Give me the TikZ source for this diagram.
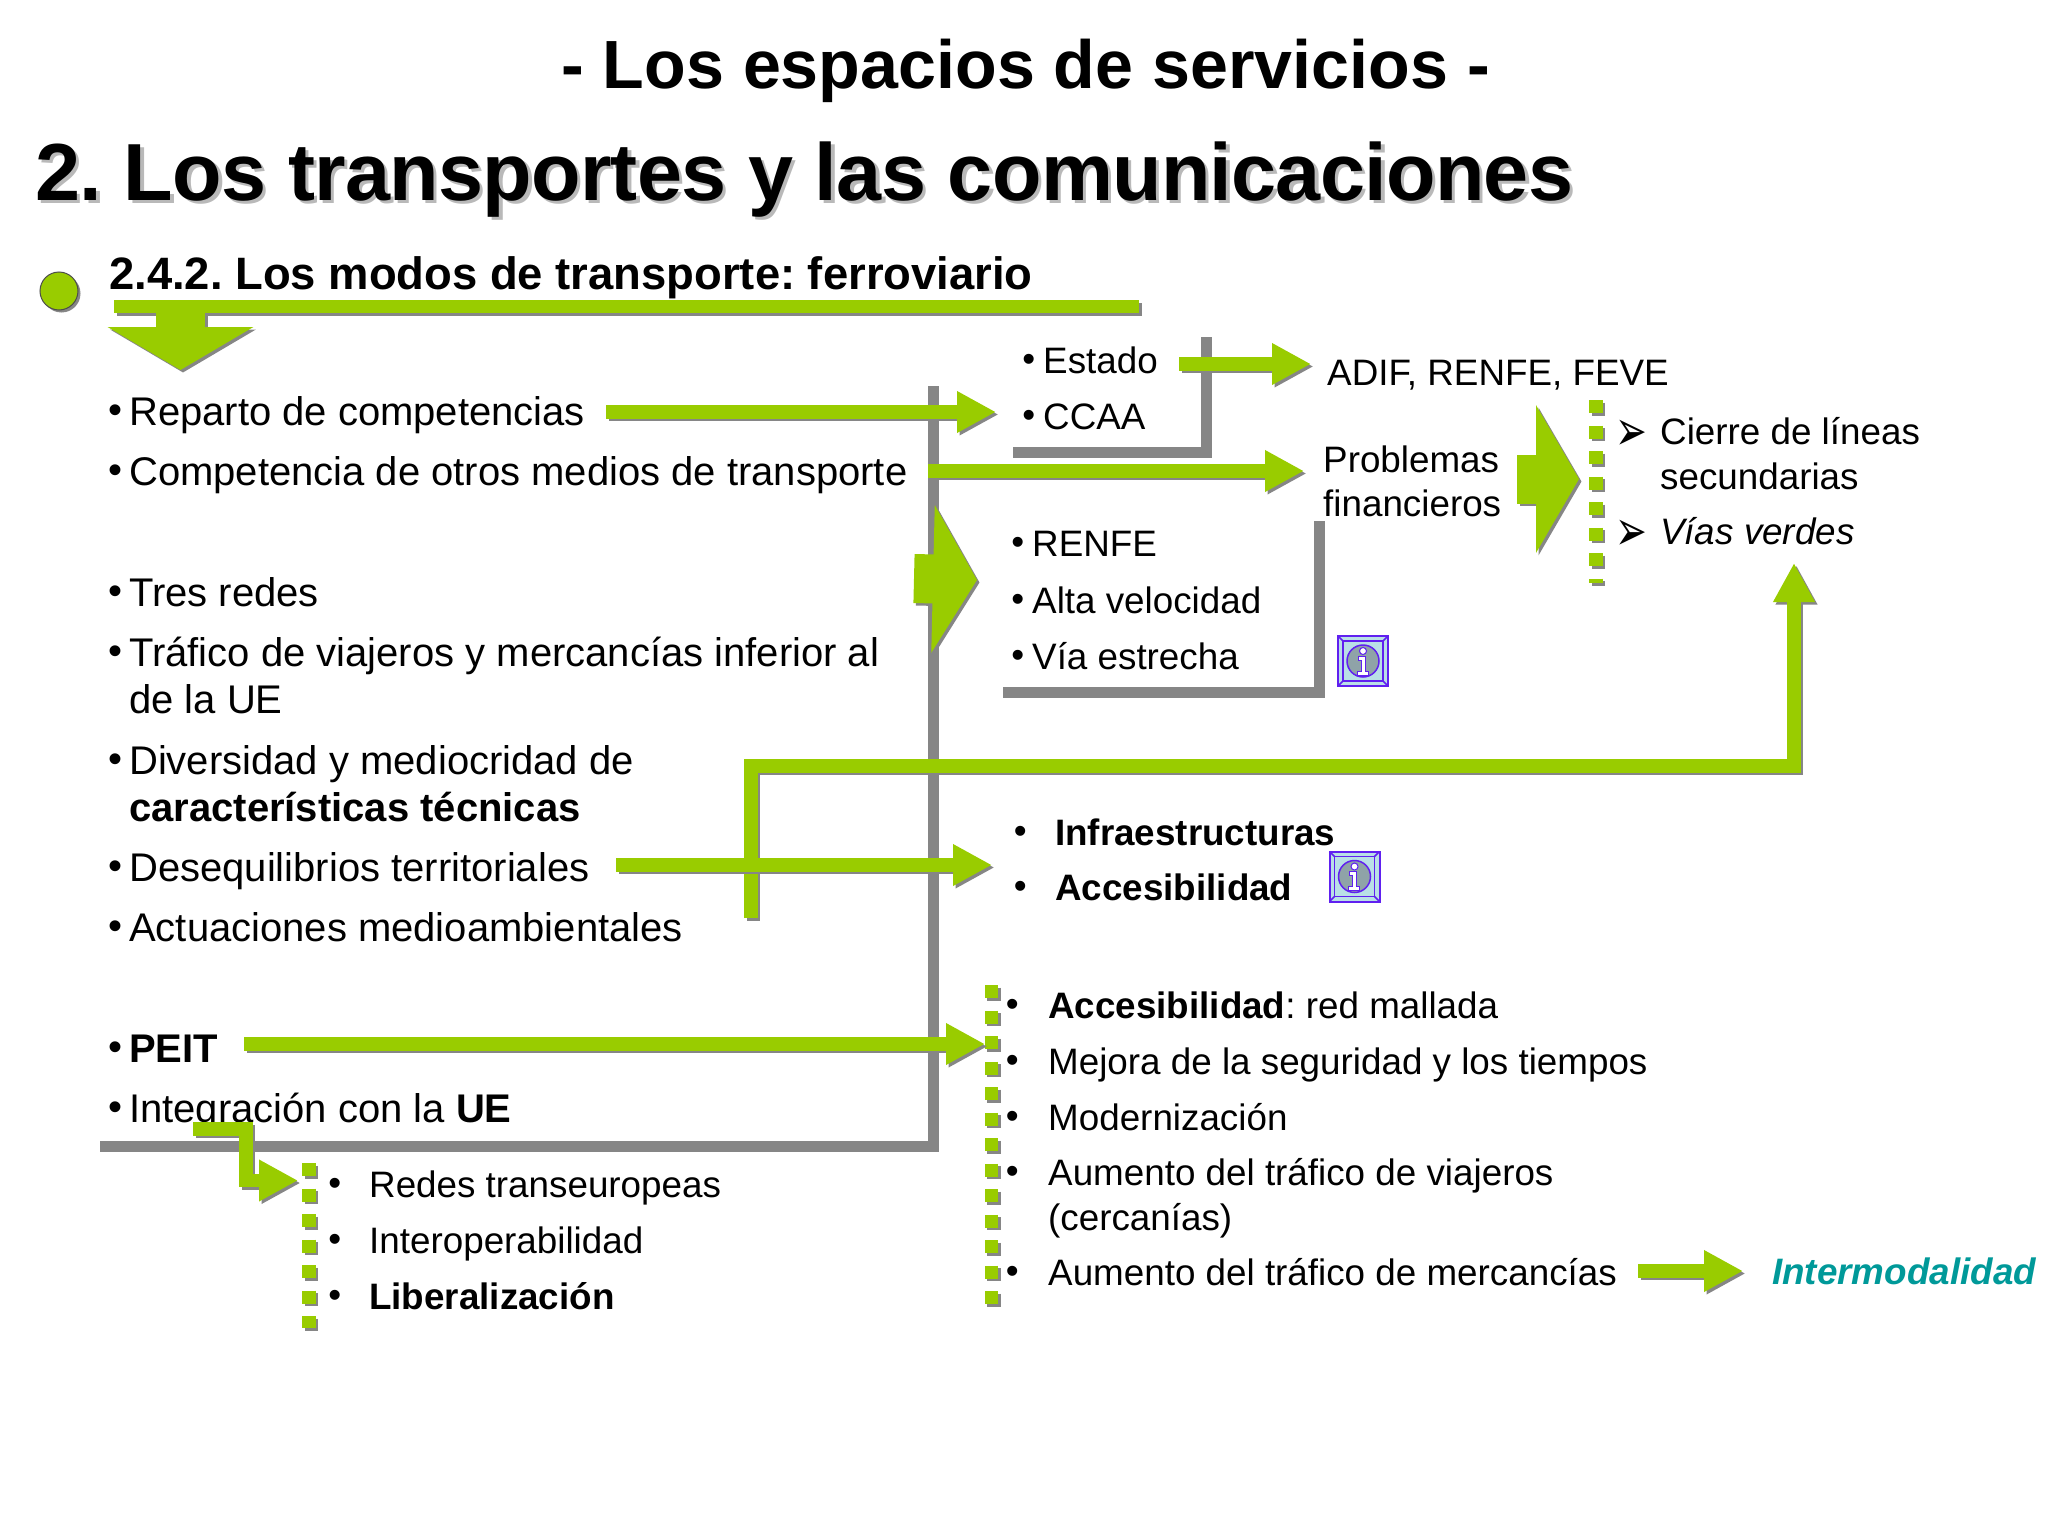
\documentclass[tikz,border=0pt]{standalone}
\usepackage{fontspec}
\setmainfont{Liberation Sans}
\newfontfamily\dingfont{DejaVu Sans}
\usepackage{tikz}
\usetikzlibrary{arrows.meta}
\frenchspacing

\definecolor{railgreen}{HTML}{99CC00}
\definecolor{railgray}{HTML}{868686}
\definecolor{railteal}{HTML}{009999}
\definecolor{iconviolet}{HTML}{6020F0}
\definecolor{iconblue}{HTML}{B9DFE6}
\definecolor{icongray}{HTML}{8FA3A8}

\tikzset{
  bigtitle/.style={anchor=base west,inner sep=0pt,font=\fontsize{81}{90}\selectfont\bfseries\addfontfeature{LetterSpace=-0.9}},
  lefttext/.style={anchor=base west,inner sep=0pt,font=\fontsize{40}{48}\selectfont},
  righttext/.style={anchor=base west,inner sep=0pt,font=\fontsize{36.8}{44}\selectfont},
  railbar/.style={draw=railgray,line width=11pt},
  dropshadow/.style={transform canvas={shift={(2.5,2.5)}}}
}

% block arrow: shaft width, tip width, tip length, path
\newcommand{\blockarrow}[4]{%
  \draw[draw=railgray,fill=none,line width=#1pt,-{Triangle[length=#3pt,width=#2pt]},dropshadow] #4;
  \draw[draw=railgreen,fill=none,line width=#1pt,-{Triangle[length=#3pt,width=#2pt]}] #4;
}
\newcommand{\greenarrow}[1]{\blockarrow{13.5}{39}{39}{#1}}
% column of little squares
\newcommand{\dotcolumn}[2]{%
  \draw[draw=railgray,line width=13.5pt,dash pattern=on 13pt off 12.5pt,dropshadow] #1 -- #2;
  \draw[draw=railgreen,line width=13.5pt,dash pattern=on 13pt off 12.5pt] #1 -- #2;
}
\newcommand{\bul}[1]{\llap{\raisebox{.05em}{•}\hspace{\dimexpr#1pt-.175em\relax}}}
\newcommand{\arrowbul}{\llap{\raisebox{-6pt}{\scalebox{1}[1.5]{\dingfont\fontsize{38}{38}\selectfont ➢}}\hspace{13pt}}}
\newcommand{\infoicon}[2]{%
  \begin{scope}[xshift=#1pt,yshift=-#2pt]
    \draw[iconviolet,fill=iconblue,line width=2pt] (-25,-25) rectangle (25,25);
    \draw[iconviolet,line width=1.5pt] (-20,-20) rectangle (20,20);
    \draw[iconviolet,line width=1.5pt] (-25,-25) -- (-20,-20) (25,-25) -- (20,-20) (25,25) -- (20,20) (-25,25) -- (-20,20);
    \draw[iconviolet,fill=icongray,line width=1.5pt] (0,0) circle (16);
    \draw[iconviolet,fill=white,line width=1pt] (0,-10) circle (3.5);
    \draw[iconviolet,fill=white,line width=1pt] (-5,-5) -- (2,-5) -- (2,10) -- (5,10) -- (5,14) -- (-6,14) -- (-6,10) -- (-2,10) -- (-2,-1) -- (-5,-1) -- cycle;
  \end{scope}
}

\begin{document}
\begin{tikzpicture}[x=1pt,y=-1pt]
  \useasboundingbox (0,0) rectangle (2048,1536);

  % titles
  \node[anchor=base west,inner sep=0pt,font=\fontsize{68.2}{80}\selectfont\bfseries] (maintitle) at (561,89) {- Los espacios de servicios -};
  \node[bigtitle,text=gray!55] (subtitleshade) at (38.5,203.5) {2. Los transportes y las comunicaciones};
  \node[bigtitle] (subtitle) at (35,200) {2. Los transportes y las comunicaciones};

  \fill[railgray,dropshadow] (59,291) circle (19);
  \draw[black!70,fill=railgreen,line width=1pt] (59,291) circle (19);
  \node[anchor=base west,inner sep=0pt,font=\fontsize{45.4}{50}\selectfont\bfseries] (section) at (109,289) {2.4.2. Los modos de transporte: ferroviario};

  % gray frames
  \draw[railbar] (933,386) -- (933,1146.5) -- (100,1146.5);
  \draw[railbar] (1206.5,337) -- (1206.5,452.5) -- (1013,452.5);
  \draw[railbar] (1319.5,521) -- (1319.5,692.5) -- (1003,692.5);

  % left column
  \node[lefttext] (reparto) at (129,425) {\bul{13.5}Reparto de competencias};
  \node[lefttext] (competencia) at (129,485) {\bul{13.5}Competencia de otros medios de transporte};
  \node[lefttext] (redes) at (129,606) {\bul{13.5}Tres redes};
  \node[lefttext] (trafico) at (129,666) {\bul{13.5}Tráfico de viajeros y mercancías inferior al};
  \node[lefttext] (traficob) at (129,713) {de la UE};
  \node[lefttext] (diversidad) at (129,774) {\bul{13.5}Diversidad y mediocridad de};
  \node[lefttext] (diversidadb) at (129,821) {\textbf{características técnicas}};
  \node[lefttext] (desequilibrios) at (129,881) {\bul{13.5}Desequilibrios territoriales};
  \node[lefttext] (actuaciones) at (129,941) {\bul{13.5}Actuaciones medioambientales};
  \node[lefttext] (peit) at (129,1062) {\bul{13.5}\textbf{PEIT}};
  \node[lefttext] (integracion) at (129,1122) {\bul{13.5}Integración con la \textbf{UE}};

  % competencias
  \node[righttext] (estado) at (1043,373) {\bul{14.5}Estado};
  \node[righttext] (ccaa) at (1043,429) {\bul{14.5}CCAA};
  \node[righttext] (adif) at (1327,385) {ADIF, RENFE, FEVE};
  \node[righttext] (problemas) at (1323,472) {Problemas};
  \node[righttext] (financieros) at (1323,516) {financieros};
  \node[righttext] (cierre) at (1660,444) {\arrowbul Cierre de líneas};
  \node[righttext] (secundarias) at (1660,489) {secundarias};
  \node[righttext] (vias) at (1660,544) {\arrowbul\textit{Vías verdes}};

  % redes
  \node[righttext] (renfe) at (1032,556) {\bul{14.5}RENFE};
  \node[righttext] (alta) at (1032,613) {\bul{14.5}Alta velocidad};
  \node[righttext] (estrecha) at (1032,669) {\bul{14.5}Vía estrecha};
  \node[righttext] (infra) at (1055,845) {\bul{35}\textbf{Infraestructuras}};
  \node[righttext] (acceso) at (1055,900) {\bul{35}\textbf{Accesibilidad}};
  \infoicon{1363}{661}
  \infoicon{1354.5}{876.5}

  % PEIT
  \node[righttext] (malla) at (1048,1018) {\bul{36}\textbf{Accesibilidad}: red mallada};
  \node[righttext] (mejora) at (1048,1074) {\bul{36}Mejora de la seguridad y los tiempos};
  \node[righttext] (modern) at (1048,1130) {\bul{36}Modernización};
  \node[righttext] (viajeros) at (1048,1185) {\bul{36}Aumento del tráfico de viajeros};
  \node[righttext] (cercanias) at (1048,1230) {(cercanías)};
  \node[righttext] (mercancias) at (1048,1285) {\bul{36}Aumento del tráfico de mercancías};
  \node[righttext,font=\fontsize{36.8}{44}\selectfont\bfseries\itshape,text=railteal] (intermodal) at (1772,1284) {Intermodalidad};

  % UE
  \node[righttext] (transeuropeas) at (369,1197) {\bul{34.5}Redes transeuropeas};
  \node[righttext] (interop) at (369,1253) {\bul{34.5}Interoperabilidad};
  \node[righttext] (liberal) at (369,1309) {\bul{34.5}\textbf{Liberalización}};

  % arrow ends
  \coordinate (sectionleft) at (114,306.5);
  \coordinate (sectionright) at (1139,306.5);
  \coordinate (droptop) at (180.5,306.5);
  \coordinate (droptip) at (180.5,370);
  \coordinate (repartoout) at (606,412);
  \coordinate (repartoin) at (996,412);
  \coordinate (estadoout) at (1179,364);
  \coordinate (estadoin) at (1311,364);
  \coordinate (compout) at (928,471);
  \coordinate (compin) at (1304,471);
  \coordinate (redesout) at (914,578.5);
  \coordinate (redesin) at (977,580);
  \coordinate (finout) at (1517,479);
  \coordinate (finin) at (1579,479);
  \coordinate (verdesout) at (751,918);
  \coordinate (verdesa) at (751,766);
  \coordinate (verdesb) at (1794,766);
  \coordinate (verdesin) at (1794,563);
  \coordinate (deseqout) at (616,865);
  \coordinate (deseqin) at (992,865);
  \coordinate (peitout) at (244,1044);
  \coordinate (peitin) at (985,1044);
  \coordinate (ueout) at (193,1129);
  \coordinate (uea) at (246,1129);
  \coordinate (ueb) at (246,1180.5);
  \coordinate (uein) at (298,1180.5);
  \coordinate (interout) at (1638,1271);
  \coordinate (interin) at (1743,1271);

  % section bar and its arrow
  \draw[draw=railgray,line width=13pt,dropshadow] (sectionleft) -- (sectionright);
  \draw[draw=railgray,line width=49pt,-{Triangle[length=43pt,width=144pt]},dropshadow] (droptop) -- (droptip);
  \draw[draw=railgreen,line width=13pt] (sectionleft) -- (sectionright);
  \draw[draw=railgreen,line width=49pt,-{Triangle[length=43pt,width=144pt]}] (droptop) -- (droptip);

  % columns of squares
  \dotcolumn{(1596,400)}{(1596,583)}
  \dotcolumn{(309,1163)}{(309,1328)}
  \dotcolumn{(991.5,985)}{(991.5,1304)}

  % green arrows
  \greenarrow{(repartoout) -- (repartoin)}
  \greenarrow{(estadoout) -- (estadoin)}
  \greenarrow{(compout) -- (compin)}
  \blockarrow{49}{146}{44}{(redesout) -- (redesin)}
  \blockarrow{49}{146}{43}{(finout) -- (finin)}
  \greenarrow{(verdesout) -- (verdesa) -- (verdesb) -- (verdesin)}
  \greenarrow{(deseqout) -- (deseqin)}
  \greenarrow{(peitout) -- (peitin)}
  \greenarrow{(ueout) -- (uea) -- (ueb) -- (uein)}
  \greenarrow{(interout) -- (interin)}
\end{tikzpicture}
\end{document}
